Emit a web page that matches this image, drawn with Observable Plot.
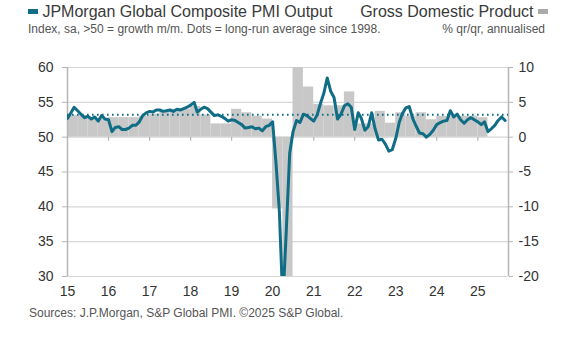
<!DOCTYPE html>
<html><head><meta charset="utf-8">
<script src="https://cdn.jsdelivr.net/npm/d3@7"></script>
<script src="https://cdn.jsdelivr.net/npm/@observablehq/plot@0.6"></script>
<style>
body{margin:0;background:#fff;font-family:"Liberation Sans",Arial,sans-serif;}
#wrap{position:relative;width:582px;height:355px;overflow:hidden;}
#legend{position:absolute;top:3px;left:0;width:582px;height:20px;font-size:16px;color:#3a3a3a;}
#legend .l{position:absolute;left:28px;top:0;white-space:nowrap;}
#legend .r{position:absolute;right:34px;top:0;white-space:nowrap;}
.sw{display:inline-block;width:10px;height:5px;vertical-align:middle;margin-top:-3px;}
#sub{position:absolute;top:22px;left:0;width:582px;font-size:12px;color:#555;}
#sub .l{position:absolute;left:28px;white-space:nowrap;}
#sub .r{position:absolute;right:37px;white-space:nowrap;}
#chart{position:absolute;top:40px;left:0;}
#src{position:absolute;top:306px;left:29px;font-size:12px;color:#555;white-space:nowrap;}
</style></head><body>
<div id="wrap">
  <div id="legend">
    <div class="l"><span class="sw" style="background:#0f6d85"></span> JPMorgan Global Composite PMI Output</div>
    <div class="r">Gross Domestic Product <span class="sw" style="background:#aaaaaa"></span></div>
  </div>
  <div id="sub">
    <div class="l">Index, sa, &gt;50 = growth m/m. Dots = long-run average since 1998.</div>
    <div class="r">% qr/qr, annualised</div>
  </div>
  <div id="chart"></div>
  <div id="src">Sources: J.P.Morgan, S&amp;P Global PMI. ©2025 S&amp;P Global.</div>
</div>
<script>
// Monthly JPMorgan Global Composite PMI Output, Jan 2015 onward
const pmi = [
  52.7, 53.5, 54.3, 53.8, 53.3, 52.8, 53.0, 52.6, 52.9, 52.3, 53.1, 52.6, // 2015
  52.5, 50.8, 51.4, 51.5, 51.1, 51.1, 51.3, 51.7, 51.7, 52.2, 53.1, 53.5, // 2016
  53.7, 53.6, 53.9, 53.9, 53.7, 53.8, 53.9, 53.7, 54.0, 53.9, 54.1, 54.3, // 2017
  54.6, 55.0, 53.6, 54.0, 54.3, 54.1, 53.6, 53.1, 53.2, 53.0, 52.7, 52.3, // 2018
  52.5, 52.4, 52.1, 51.8, 51.3, 51.4, 51.5, 51.2, 51.3, 50.9, 51.5, 51.7, // 2019
  52.2, 46.1, 39.4, 26.2, 36.3, 47.7, 50.8, 52.4, 52.1, 53.3, 53.1, 52.7, // 2020
  52.3, 53.2, 54.8, 56.3, 58.5, 56.6, 55.7, 52.6, 53.3, 54.5, 54.8, 54.3, // 2021
  51.1, 53.5, 52.7, 51.0, 51.5, 53.5, 51.2, 49.6, 49.7, 49.0, 48.0, 48.2, // 2022
  49.8, 52.1, 53.4, 54.2, 54.4, 52.7, 51.6, 50.6, 50.5, 50.0, 50.4, 51.0, // 2023
  51.8, 52.1, 52.3, 52.4, 53.8, 52.9, 53.3, 52.5, 52.0, 52.5, 52.8, 52.5, // 2024
  52.2, 51.8, 52.2, 50.8, 51.2, 51.7, 52.4, 52.9, 52.4                    // 2025
];
// Quarterly GDP, % q/q annualised, 2015 Q1 onward
const gdp = [
  3.1, 3.1, 2.6, 2.6,
  2.8, 2.8, 2.8, 3.0,
  3.3, 3.6, 4.0, 4.0,
  4.4, 3.2, 1.9, 1.9,
  4.0, 3.5, 3.0, 2.6,
  -10.3, -28.0, 30.0, 7.2,
  4.7, 4.5, 4.5, 6.5,
  1.9, 1.9, 3.7, 2.0,
  3.5, 3.0, 3.5, 2.5,
  3.0, 3.0, 3.0, 3.0,
  2.8
];
const longRunAvg = 53.2;
const startYear = 2015;
const yearLabels = ["15","16","17","18","19","20","21","22","23","24","25"];
const leftTicks = [30, 35, 40, 45, 50, 55, 60];
const gdpOffset = 50; // GDP 0 aligns with PMI 50

const start = new Date(Date.UTC(startYear, 0, 1));
const pmiRows = pmi.map((v, i) => ({date: d3.utcMonth.offset(start, i), v}));
const gdpRows = gdp.map((v, i) => ({
  x1: d3.utcMonth.offset(start, 3 * i),
  x2: d3.utcMonth.offset(start, 3 * i + 3),
  v
}));
const xEnd = d3.utcMonth.offset(start, pmi.length);
const years = yearLabels.map((_, i) => new Date(Date.UTC(startYear + i, 0, 1)));

const teal = "#0f6d85";
const font = '"Liberation Sans", Arial, sans-serif';

const chart = Plot.plot({
  width: 582,
  height: 266,
  marginTop: 27,
  marginBottom: 30,
  marginLeft: 67,
  marginRight: 74,
  style: {fontFamily: font, fontSize: "13px", color: "#333", background: "#fff"},
  x: {type: "utc", domain: [start, xEnd]},
  y: {domain: [30, 60]},
  marks: [
    Plot.gridY(leftTicks, {stroke: "#d6d6d6", strokeOpacity: 1, strokeWidth: 1.2}),
    Plot.rectY(gdpRows, {x1: "x1", x2: "x2", y1: gdpOffset, y2: d => d.v + gdpOffset, fill: "#c8c8c8", clip: true}),
    Plot.ruleX([start, xEnd], {stroke: "#b5b5b5", strokeWidth: 1.5}),
    Plot.ruleX(years.slice(1), {x: d => d, y1: gdpOffset, y2: gdpOffset - 0.6, stroke: "#b5b5b5", strokeWidth: 1.2}),
    Plot.ruleY([longRunAvg], {stroke: teal, strokeWidth: 2, strokeDasharray: "1.6,3.4"}),
    Plot.line(pmiRows, {x: "date", y: "v", stroke: teal, strokeWidth: 3, clip: true, strokeLinejoin: "round"}),
    Plot.axisY(leftTicks, {anchor: "left", tickSize: 5, tickPadding: 9, stroke: "#b5b5b5", fill: "#333", label: null, fontSize: 14}),
    Plot.axisY(leftTicks, {anchor: "right", tickSize: 4, tickPadding: 6, stroke: "#b5b5b5", fill: "#333", label: null, fontSize: 14, tickFormat: d => String(d - gdpOffset)}),
    Plot.axisX(years, {anchor: "bottom", tickSize: 0, tickPadding: 10, fill: "#333", label: null, fontSize: 14, tickFormat: (d, i) => yearLabels[i]})
  ]
});
document.getElementById("chart").appendChild(chart);
</script>
</body></html>
